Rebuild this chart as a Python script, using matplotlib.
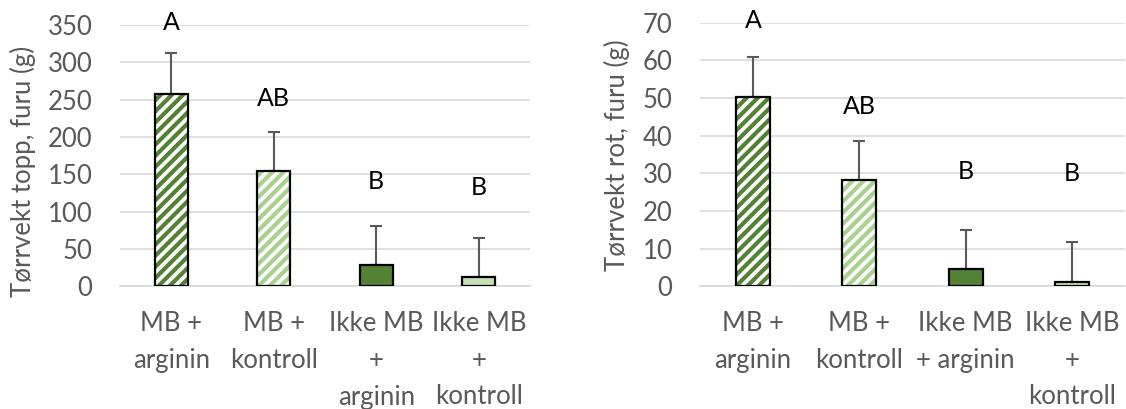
import matplotlib
matplotlib.use("Agg")
import matplotlib.pyplot as plt

# --- data ---------------------------------------------------------------------------
cats_top = ["MB +\narginin", "MB +\nkontroll", "Ikke MB\n+\narginin", "Ikke MB\n+\nkontroll"]
cats_root = ["MB +\narginin", "MB +\nkontroll", "Ikke MB\n+ arginin", "Ikke MB\n+\nkontroll"]

top_mean = [258, 154, 28, 12]
top_err = [54, 53, 53, 53]
top_letters = ["A", "AB", "B", "B"]
top_letter_y = [353, 251, 140, 132]

root_mean = [50.2, 28.1, 4.5, 1.2]
root_err = [10.7, 10.6, 10.5, 10.6]
root_letters = ["A", "AB", "B", "B"]
root_letter_y = [70.5, 47.8, 30.5, 30.0]

DARK = "#548235"
LIGHT_HATCH = "#A9D18E"
LIGHT = "#C5E0B4"
GRAY = "#595959"
GRID = "#D9D9D9"
FS = 18.5

plt.rcParams["font.family"] = ["Lato", "DejaVu Sans"]
plt.rcParams["hatch.linewidth"] = 3.0

# (face, hatch colour or None)
styles = [("white", DARK), ("white", LIGHT_HATCH), (DARK, None), (LIGHT, None)]


def draw(ax, cats, mean, err, letters, letter_y, ymax, step):
    x = list(range(len(cats)))
    w = 0.32
    for xi, m, (face, hc) in zip(x, mean, styles):
        if hc is not None:
            ax.bar(xi, m, width=w, color=face, edgecolor=hc, hatch="///", linewidth=0, zorder=2)
        else:
            ax.bar(xi, m, width=w, color=face, linewidth=0, zorder=2)
        ax.bar(xi, m, width=w, fill=False, edgecolor="black", linewidth=1.6, zorder=3)
    ax.errorbar(x, mean, yerr=[[0] * len(err), err], fmt="none", ecolor=GRAY,
                elinewidth=1.5, capsize=4.5, capthick=1.5, zorder=1)
    for xi, lab, ly in zip(x, letters, letter_y):
        ax.text(xi, ly, lab, ha="center", va="center", fontsize=18, color="black",
                clip_on=False)

    ax.set_xlim(-0.5, len(cats) - 0.5)
    ax.set_ylim(0, ymax)
    ax.set_yticks(range(0, ymax + 1, step))
    ax.set_xticks(x)
    ax.set_xticklabels(cats, linespacing=1.58)
    ax.yaxis.grid(True, color=GRID, linewidth=1.2, zorder=0)
    ax.set_axisbelow(True)
    for s in ("top", "right", "left"):
        ax.spines[s].set_visible(False)
    ax.spines["bottom"].set_color(GRID)
    ax.spines["bottom"].set_linewidth(1.2)
    ax.tick_params(axis="both", length=0, labelsize=FS, labelcolor=GRAY)
    ax.tick_params(axis="x", pad=18)
    ax.tick_params(axis="y", pad=20)


fig = plt.figure(figsize=(11.26, 4.09), dpi=100)
ax1 = fig.add_axes([0.1066, 0.300, 0.3641, 0.6389])
ax2 = fig.add_axes([0.6217, 0.300, 0.3774, 0.6445])

draw(ax1, cats_top, top_mean, top_err, top_letters, top_letter_y, 350, 50)
draw(ax2, cats_root, root_mean, root_err, root_letters, root_letter_y, 70, 10)

fig.text(23 / 1126, 0.582, "Tørrvekt topp, furu (g)", rotation=90, ha="center",
         va="center", fontsize=FS, color=GRAY)
fig.text(617 / 1126, 0.621, "Tørrvekt rot, furu (g)", rotation=90, ha="center",
         va="center", fontsize=FS, color=GRAY)

fig.savefig("out.png", dpi=100)
